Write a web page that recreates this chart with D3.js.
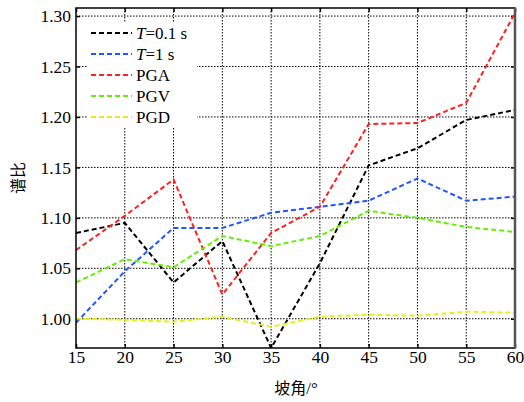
<!DOCTYPE html>
<html>
<head>
<meta charset="utf-8">
<script src="https://cdn.jsdelivr.net/npm/d3@7"></script>
<style>
  body { margin: 0; background: #fff; }
</style>
</head>
<body>
<div id="chart"></div>
<script>
// Chart data
var angles = [15, 20, 25, 30, 35, 40, 45, 50, 55, 60];
var t01 = [1.085, 1.095, 1.036, 1.077, 0.971, 1.055, 1.152, 1.169, 1.197, 1.207];
var t1 = [0.996, 1.047, 1.090, 1.090, 1.105, 1.111, 1.117, 1.139, 1.117, 1.121];
var pga = [1.068, 1.102, 1.138, 1.024, 1.085, 1.111, 1.193, 1.194, 1.214, 1.303];
var pgv = [1.036, 1.059, 1.051, 1.082, 1.072, 1.082, 1.107, 1.100, 1.091, 1.086];
var pgd = [1.000, 0.999, 0.997, 1.002, 0.992, 1.002, 1.004, 1.003, 1.007, 1.006];
var yTicks = [1.00, 1.05, 1.10, 1.15, 1.20, 1.25, 1.30];

var seriesNames = ["T=0.1 s", "T=1 s", "PGA", "PGV", "PGD"];
var seriesValues = [t01, t1, pga, pgv, pgd];
var seriesColors = ["#000000", "#2255ff", "#ff2020", "#66ee00", "#e2f020"];

var serif = "Liberation Serif";
var cjk = "Noto Sans CJK SC";

var svgWidth = 524;
var svgHeight = 402;

var margin = { top: 8, right: 9, bottom: 54, left: 76 };
var chartWidth = svgWidth - margin.left - margin.right;
var chartHeight = svgHeight - margin.top - margin.bottom;

var svg = d3.select("#chart")
    .append("svg")
    .attr("width", svgWidth)
    .attr("height", svgHeight)
    .attr("font-family", serif);

var chartGroup = svg.append("g")
    .attr("transform", `translate(${margin.left}, ${margin.top})`);

var xScale = d3.scaleLinear().domain([15, 60]).range([0, chartWidth]);
var yScale = d3.scaleLinear().domain([0.971, 1.308]).range([chartHeight, 0]);

// dotted grid
chartGroup.append("g")
    .selectAll("line")
    .data(angles.slice(1, -1))
    .enter()
    .append("line")
    .attr("x1", d => xScale(d)).attr("x2", d => xScale(d))
    .attr("y1", 0).attr("y2", chartHeight)
    .attr("stroke", "#000").attr("stroke-width", 1)
    .attr("stroke-dasharray", "1.5,1.5");

chartGroup.append("g")
    .selectAll("line")
    .data(yTicks)
    .enter()
    .append("line")
    .attr("x1", 0).attr("x2", chartWidth)
    .attr("y1", d => yScale(d)).attr("y2", d => yScale(d))
    .attr("stroke", "#000").attr("stroke-width", 1)
    .attr("stroke-dasharray", "1.5,1.5");

// axes with inward ticks
var xAxis = chartGroup.append("g")
    .attr("transform", "translate(0," + chartHeight + ")")
    .call(d3.axisBottom(xScale).tickValues(angles).tickSize(-4).tickPadding(3).tickSizeOuter(0));

var xTop = chartGroup.append("g")
    .call(d3.axisTop(xScale).tickValues(angles).tickSize(-4).tickFormat("").tickSizeOuter(0));

var yAxis = chartGroup.append("g")
    .call(d3.axisLeft(yScale).tickValues(yTicks).tickSize(-4).tickPadding(5)
        .tickFormat(d3.format(".2f")).tickSizeOuter(0));

var yRight = chartGroup.append("g")
    .attr("transform", "translate(" + chartWidth + ",0)")
    .call(d3.axisRight(yScale).tickValues(yTicks).tickSize(-4).tickFormat("").tickSizeOuter(0));

[xAxis, xTop, yAxis, yRight].forEach(function (g) {
    g.attr("font-family", serif).attr("font-size", 17.5);
    g.select(".domain").remove();
    g.selectAll("line").attr("stroke", "#000").attr("stroke-width", 1.5);
    g.selectAll("text").attr("fill", "#000");
});

// clip for series
svg.append("defs").append("clipPath").attr("id", "plotClip")
    .append("rect").attr("width", chartWidth).attr("height", chartHeight);

var line = d3.line()
    .x((d, i) => xScale(angles[i]))
    .y(d => yScale(d));

chartGroup.append("g")
    .attr("clip-path", "url(#plotClip)")
    .selectAll("path")
    .data(seriesValues)
    .enter()
    .append("path")
    .attr("d", d => line(d))
    .attr("fill", "none")
    .attr("stroke", (d, i) => seriesColors[i])
    .attr("stroke-width", 2)
    .attr("stroke-dasharray", "5,3");

// frame
chartGroup.append("rect")
    .attr("width", chartWidth)
    .attr("height", chartHeight)
    .attr("fill", "none")
    .attr("stroke", "#000")
    .attr("stroke-width", 1.5);
chartGroup.append("line")
    .attr("x1", chartWidth).attr("x2", chartWidth)
    .attr("y1", 0).attr("y2", chartHeight)
    .attr("stroke", "#555").attr("stroke-width", 2.5);

// legend
var legend = chartGroup.append("g")
    .attr("transform", "translate(15, 25)");

var legendItems = legend.selectAll("g")
    .data(seriesNames)
    .enter()
    .append("g")
    .attr("transform", (d, i) => `translate(0, ${i * 21})`);

legendItems.append("rect")
    .attr("x", -4).attr("y", -10).attr("width", 110).attr("height", 20)
    .attr("fill", "#fff");

legendItems.append("line")
    .attr("x1", 0).attr("x2", 41)
    .attr("y1", 0).attr("y2", 0)
    .attr("stroke", (d, i) => seriesColors[i])
    .attr("stroke-width", 2)
    .attr("stroke-dasharray", "5,3");

legendItems.append("text")
    .attr("x", 45)
    .attr("y", 6)
    .attr("font-family", serif)
    .attr("font-size", 17)
    .each(function (d) {
        var t = d3.select(this);
        if (d.startsWith("T=")) {
            t.append("tspan").attr("font-style", "italic").text("T");
            t.append("tspan").text(d.slice(1));
        } else {
            t.text(d);
        }
    });

// axis titles
svg.append("text")
    .attr("transform", "translate(24, 178) rotate(-90)")
    .attr("text-anchor", "middle")
    .attr("font-family", cjk)
    .attr("font-size", 16)
    .text("谱比");

var xTitle = svg.append("text")
    .attr("x", 296)
    .attr("y", 394)
    .attr("text-anchor", "middle")
    .attr("font-family", serif)
    .attr("font-size", 17);
xTitle.append("tspan").attr("font-family", cjk).attr("font-size", 16).text("坡角");
xTitle.append("tspan").text("/°");
</script>
</body>
</html>
